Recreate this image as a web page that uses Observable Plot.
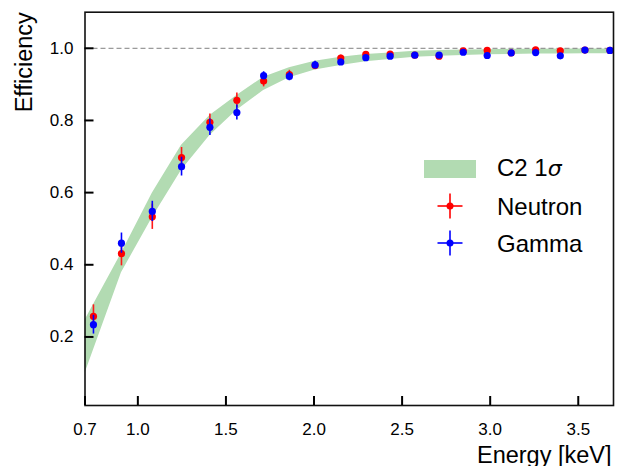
<!DOCTYPE html>
<html><head><meta charset="utf-8">
<script src="https://cdn.jsdelivr.net/npm/d3@7"></script>
<script src="https://cdn.jsdelivr.net/npm/@observablehq/plot@0.6"></script>
<style>body{margin:0;background:#fff}</style>
</head><body><div id="chart"></div>
<script>
// Data
const energy = [0.748, 0.907, 1.082, 1.248, 1.409, 1.562, 1.714, 1.860, 2.006, 2.152, 2.294, 2.432, 2.572, 2.710, 2.847, 2.983, 3.119, 3.258, 3.398, 3.538, 3.680];
const neutron = [0.257, 0.431, 0.533, 0.697, 0.795, 0.856, 0.909, 0.927, 0.952, 0.973, 0.983, 0.984, 0.981, 0.978, 0.993, 0.994, 0.987, 0.996, 0.993, 0.995, 0.994];
const neutronErr = [0.032, 0.034, 0.035, 0.028, 0.023, 0.020, 0.016, 0.012, 0.010, 0.008, 0.007, 0.007, 0.006, 0.006, 0.006, 0.005, 0.005, 0.005, 0.005, 0.005, 0.005];
const gamma = [0.234, 0.460, 0.548, 0.672, 0.781, 0.822, 0.924, 0.922, 0.954, 0.962, 0.974, 0.978, 0.981, 0.981, 0.989, 0.980, 0.987, 0.988, 0.979, 0.995, 0.994];
const gammaErr = [0.026, 0.028, 0.028, 0.026, 0.023, 0.021, 0.011, 0.012, 0.010, 0.008, 0.007, 0.007, 0.006, 0.006, 0.006, 0.005, 0.005, 0.005, 0.005, 0.005, 0.005];

const bandEnergy = [0.7, 0.907, 1.082, 1.248, 1.409, 1.562, 1.714, 1.860, 2.006, 2.152, 2.294, 2.432, 2.572, 2.710, 2.847, 2.983, 3.119, 3.258, 3.398, 3.538, 3.7];
const bandLow  = [0.099, 0.378, 0.530, 0.662, 0.758, 0.828, 0.883, 0.918, 0.940, 0.952, 0.963, 0.969, 0.975, 0.978, 0.980, 0.982, 0.983, 0.984, 0.984, 0.985, 0.985];
const bandHigh = [0.246, 0.432, 0.598, 0.731, 0.814, 0.869, 0.920, 0.946, 0.964, 0.975, 0.983, 0.987, 0.992, 0.994, 0.995, 0.996, 0.997, 0.997, 0.998, 0.998, 0.998];

const xTicks = [0.7, 1.0, 1.5, 2.0, 2.5, 3.0, 3.5];
const yTicks = [0.2, 0.4, 0.6, 0.8, 1.0];
const legendLabels = ["C2 1", "Neutron", "Gamma"];

const font = "'Liberation Sans', Arial, Helvetica, sans-serif";
const bandColor = "#b2dbb2";

const rows = energy.map((e, i) => ({e, n: neutron[i], ne: neutronErr[i], g: gamma[i], ge: gammaErr[i]}));
const bandRows = bandEnergy.map((e, i) => ({e, lo: bandLow[i], hi: bandHigh[i]}));

const chart = Plot.plot({
  width: 623, height: 466,
  marginLeft: 84.5, marginRight: 10, marginTop: 11.7, marginBottom: 61,
  style: {fontFamily: font},
  x: {domain: [0.7, 3.7]},
  y: {domain: [0.01, 1.1]},
  marks: [
    Plot.areaY(bandRows, {x: "e", y1: "lo", y2: "hi", fill: bandColor, clip: true}),
    Plot.ruleY([1.0], {stroke: "#808080", strokeDasharray: "5,3", strokeWidth: 1}),
    Plot.ruleX(rows, {x: "e", y1: d => d.n - d.ne, y2: d => d.n + d.ne, stroke: "#ff1a1a", strokeWidth: 1.6}),
    Plot.dot(rows, {x: "e", y: "n", r: 3.6, fill: "red"}),
    Plot.ruleX(rows, {x: "e", y1: d => d.g - d.ge, y2: d => d.g + d.ge, stroke: "blue", strokeWidth: 1.6}),
    Plot.dot(rows, {x: "e", y: "g", r: 3.6, fill: "blue"}),
    Plot.frame({stroke: "#111", strokeWidth: 1.6}),
    Plot.axisX({ticks: xTicks, tickFormat: d3.format(".1f"), tickSize: -9, tickPadding: 26, fontSize: 17, label: null, stroke: "#000", strokeWidth: 2, fill: "black"}),
    Plot.axisY({ticks: yTicks, tickFormat: d3.format(".1f"), tickSize: -9, tickPadding: 20.5, fontSize: 17, label: null, stroke: "#000", strokeWidth: 2, fill: "black"}),
    Plot.text(["Efficiency"], {text: d => d, frameAnchor: "top-left", rotate: -90, textAnchor: "end", lineAnchor: "bottom", dx: -53.5, fontSize: 23.5, fill: "black"}),
    Plot.text(["Energy [keV]"], {text: d => d, frameAnchor: "bottom-right", textAnchor: "end", lineAnchor: "bottom", dx: -2, dy: 57, fontSize: 23.5, fill: "black"})
  ]
});
document.getElementById("chart").appendChild(chart);

// Legend inside the plot area
const svg = d3.select(chart);
const lg = svg.append("g").attr("font-family", font).attr("font-size", 24).attr("fill", "black").attr("text-anchor", "start");
lg.append("rect").attr("x", 424).attr("y", 160).attr("width", 52).attr("height", 18).attr("fill", bandColor);
const t0 = lg.append("text").attr("x", 497).attr("y", 176);
t0.append("tspan").text(legendLabels[0]);
t0.append("tspan").attr("font-style", "italic").attr("font-family", "'DejaVu Sans', sans-serif").attr("font-size", 22).text("σ");
[[legendLabels[1], "red", 206, 215], [legendLabels[2], "blue", 243, 252]].forEach(([lab, col, cy, by]) => {
  lg.append("line").attr("x1", 437.5).attr("x2", 462.5).attr("y1", cy).attr("y2", cy).attr("stroke", col).attr("stroke-width", 1.6);
  lg.append("line").attr("x1", 450).attr("x2", 450).attr("y1", cy - 12.5).attr("y2", cy + 12.5).attr("stroke", col).attr("stroke-width", 1.6);
  lg.append("circle").attr("cx", 450).attr("cy", cy).attr("r", 3.5).attr("fill", col);
  lg.append("text").attr("x", 497).attr("y", by).text(lab);
});
</script></body></html>
